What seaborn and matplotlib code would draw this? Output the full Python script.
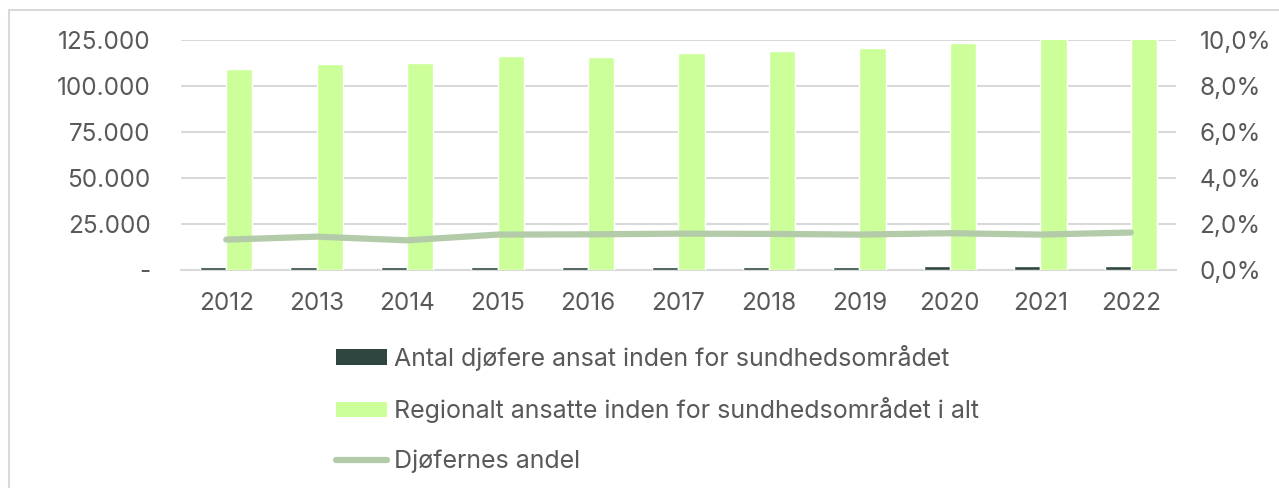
import matplotlib
matplotlib.use("Agg")
import matplotlib.pyplot as plt
import matplotlib.ticker as mticker
from matplotlib.patches import Patch, Rectangle
from matplotlib.lines import Line2D
import numpy as np
import pandas as pd
import seaborn as sns

years = ["2012", "2013", "2014", "2015", "2016", "2017", "2018", "2019", "2020", "2021", "2022"]
djofere = [1400, 1600, 1450, 1800, 1800, 1850, 1850, 1850, 1950, 1950, 2050]
regionalt = [109000, 111800, 112300, 116100, 115600, 118100, 119200, 120600, 123200, 126000, 127500]
andel = [0.0132, 0.0145, 0.0129, 0.0154, 0.0155, 0.0158, 0.0157, 0.0154, 0.0160, 0.0154, 0.0163]

lab_dark = "Antal djøfere ansat inden for sundhedsområdet"
lab_green = "Regionalt ansatte inden for sundhedsområdet i alt"
lab_line = "Djøfernes andel"

c_dark = "#2F4540"
c_green = "#CCFF99"
c_line = "#B3CBA9"
c_text = "#595959"
c_grid = "#D9D9D9"

sns.set_theme(style="white")
plt.rcParams["font.family"] = ["Inter", "DejaVu Sans"]

df = pd.DataFrame({
    "year": years * 2,
    "value": djofere + regionalt,
    "serie": [lab_dark] * len(years) + [lab_green] * len(years),
})

fig = plt.figure(figsize=(12.79, 4.88), dpi=100)
ax = fig.add_axes([181 / 1279, 1 - 270 / 488, (1176 - 181) / 1279, (270 - 40) / 488])

sns.barplot(data=df, x="year", y="value", hue="serie", order=years,
            hue_order=[lab_dark, lab_green], palette=[c_dark, c_green],
            width=0.58, gap=0, ax=ax, legend=False, saturation=1)

ax.set_ylim(0, 125000)
ax.set_xlim(-0.5, len(years) - 0.5)
ax.set_yticks([0, 25000, 50000, 75000, 100000, 125000])
ax.yaxis.set_major_formatter(mticker.FuncFormatter(
    lambda v, p: "-" if v == 0 else f"{int(v):,}".replace(",", ".")))
ax.grid(axis="y", color=c_grid, linewidth=1.5)
ax.set_axisbelow(True)
ax.set_xlabel("")
ax.set_ylabel("")
for s in ["top", "left", "right"]:
    ax.spines[s].set_visible(False)
ax.spines["bottom"].set_color(c_grid)
ax.spines["bottom"].set_linewidth(1.5)
ax.spines["bottom"].set_zorder(0.5)
ax.tick_params(axis="y", length=0, pad=22, labelsize=17.5, labelcolor=c_text)
ax.tick_params(axis="x", which="major", length=0, pad=16, labelsize=17.5, labelcolor=c_text)
ax.set_xticks(np.arange(-0.5, len(years), 1.0), minor=True)
ax.tick_params(axis="x", which="minor", length=6, width=1.5, color=c_grid, direction="out")

ax2 = ax.twinx()
sns.lineplot(x=np.arange(len(years)), y=andel, ax=ax2, color=c_line,
             linewidth=4.5, solid_capstyle="round")
ax2.set_ylim(0, 0.10)
ax2.set_yticks(np.arange(0, 0.1001, 0.02))
ax2.yaxis.set_major_formatter(mticker.FuncFormatter(
    lambda v, p: f"{v * 100:.1f}%".replace(".", ",")))
ax2.tick_params(axis="y", length=0, pad=17, labelsize=17.5, labelcolor=c_text)
for s in ["top", "left", "right", "bottom"]:
    ax2.spines[s].set_visible(False)
ax2.grid(False)

handles = [
    Patch(facecolor=c_dark, edgecolor="none"),
    Patch(facecolor=c_green, edgecolor="none"),
    Line2D([0], [0], color=c_line, linewidth=4.5, solid_capstyle="round"),
]
leg = fig.legend(handles, [lab_dark, lab_green, lab_line],
                 loc="upper left", bbox_to_anchor=(336 / 1279, 1 - 345 / 488),
                 frameon=False, fontsize=18, handlelength=2.05, handleheight=0.6,
                 handletextpad=0.25, labelspacing=1.05, borderpad=0, borderaxespad=0)
for t in leg.get_texts():
    t.set_color(c_text)

fig.patches.append(Rectangle((8.5 / 1279, -0.1), 2, 1.1 - 10 / 488,
                             transform=fig.transFigure, fill=False,
                             edgecolor=c_grid, linewidth=1.5))

fig.savefig("out.png", dpi=100)
